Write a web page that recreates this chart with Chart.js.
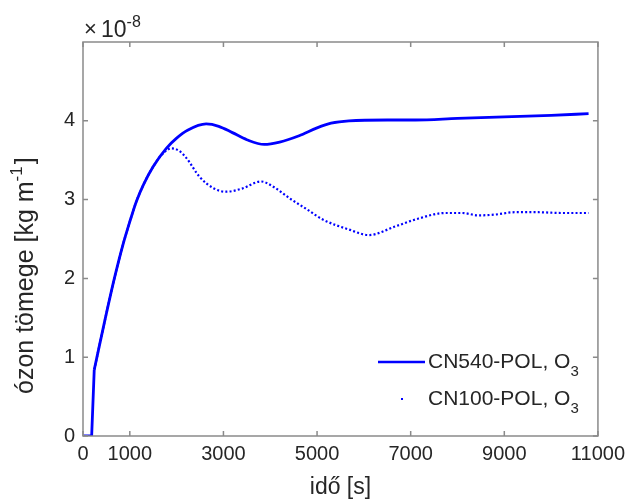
<!DOCTYPE html>
<html>
<head>
<meta charset="utf-8">
<script src="https://cdn.jsdelivr.net/npm/chart.js@4.4.1/dist/chart.umd.min.js"></script>
<style>
  html, body { margin: 0; padding: 0; background: #fff; }
  #wrap { width: 631px; height: 501px; }
</style>
</head>
<body>
<div id="wrap"><canvas id="chart" width="631" height="501"></canvas></div>
<script>
// time axis [s] and ozone mass [x 1e-8 kg/m]
// start-up ramp, common to both runs (drawn straight)
const rampTime = [0, 185, 240];
const rampMass = [0, 0, 0.84];

const solidTime = [240, 468, 670, 850, 1000, 1142, 1300, 1500, 1780, 2000, 2234, 2631, 2900, 3191, 3500, 3872, 4200, 4617, 5000, 5300, 5681, 6500, 7100, 8000, 9000, 10000, 10800];
const solidMass = [0.84, 1.47, 2.0, 2.42, 2.72, 2.98, 3.2, 3.42, 3.65, 3.78, 3.88, 3.96, 3.93, 3.85, 3.76, 3.70, 3.73, 3.81, 3.91, 3.97, 4.0, 4.01, 4.01, 4.03, 4.05, 4.07, 4.09];

const dotTime = [240, 468, 670, 850, 1000, 1142, 1300, 1500, 1700, 1887, 2050, 2206, 2489, 2800, 3057, 3400, 3801, 4100, 4404, 4800, 5113, 5681, 6106, 6674, 7170, 7738, 8100, 8447, 8800, 9227, 9700, 10213, 10800];
const dotMass = [0.84, 1.47, 2.0, 2.42, 2.72, 2.98, 3.2, 3.42, 3.58, 3.65, 3.62, 3.53, 3.29, 3.14, 3.10, 3.14, 3.23, 3.15, 3.02, 2.87, 2.75, 2.62, 2.55, 2.66, 2.76, 2.83, 2.83, 2.80, 2.81, 2.84, 2.84, 2.83, 2.83];

const seriesNames = ['CN540-POL, O', 'CN100-POL, O'];
const seriesSub = '3';
const xTicks = [0, 1000, 3000, 5000, 7000, 9000, 11000];
const yTicks = [0, 1, 2, 3, 4];
const xTitle = 'idő [s]';
const yTitle = 'ózon tömege [kg m';
const yTitleSup = '-1';
const expSign = '×';
const expBase = '10';
const expSup = '-8';

const FONT = "'Liberation Sans', Arial, Helvetica, sans-serif";
const BLUE = '#0000ff';
const AXIS = '#8a8a8a';
const TEXT = '#262626';

const toPoints = (xs, ys) => xs.map((x, i) => ({ x: x, y: ys[i] }));

// box, inward ticks, y label, exponent and legend, drawn like the matlab figure
const matlabAxes = {
    id: 'matlabAxes',
    afterDatasetsDraw(chart) {
        const { ctx, chartArea: a, scales } = chart;
        ctx.save();
        ctx.strokeStyle = AXIS;
        ctx.lineWidth = 1.5;
        ctx.strokeRect(a.left, a.top, a.right - a.left, a.bottom - a.top);

        ctx.beginPath();
        xTicks.forEach(v => {
            const px = scales.x.getPixelForValue(v);
            ctx.moveTo(px, a.bottom); ctx.lineTo(px, a.bottom - 5);
            ctx.moveTo(px, a.top); ctx.lineTo(px, a.top + 5);
        });
        yTicks.forEach(v => {
            const py = scales.y.getPixelForValue(v);
            ctx.moveTo(a.left, py); ctx.lineTo(a.left + 5, py);
            ctx.moveTo(a.right, py); ctx.lineTo(a.right - 5, py);
        });
        ctx.stroke();

        ctx.fillStyle = TEXT;
        ctx.textBaseline = 'alphabetic';
        ctx.textAlign = 'left';

        // exponent label
        ctx.font = '22px ' + FONT;
        ctx.fillText(expSign, 84, 36);
        ctx.font = '23px ' + FONT;
        ctx.fillText(expBase, 101, 37);
        const bw = ctx.measureText(expBase).width;
        ctx.font = '16px ' + FONT;
        ctx.fillText(expSup, 101 + bw, 27);

        // y title, rotated
        ctx.save();
        ctx.translate(33, 394);
        ctx.rotate(-Math.PI / 2);
        ctx.font = '25px ' + FONT;
        ctx.fillText(yTitle, 0, 0);
        let tx = ctx.measureText(yTitle).width;
        ctx.font = '17px ' + FONT;
        ctx.fillText(yTitleSup, tx, -11);
        tx += ctx.measureText(yTitleSup).width + 2;
        ctx.font = '25px ' + FONT;
        ctx.fillText(']', tx, 0);
        ctx.restore();

        // legend
        const rows = [368, 405];
        seriesNames.forEach((name, i) => {
            const base = rows[i];
            const mid = base - 6;
            if (i === 0) {
                ctx.strokeStyle = BLUE;
                ctx.lineWidth = 2.5;
                ctx.beginPath();
                ctx.moveTo(378, mid); ctx.lineTo(425, mid);
                ctx.stroke();
            } else {
                ctx.fillStyle = BLUE;
                ctx.fillRect(401, mid - 1, 2, 2);
            }
            ctx.fillStyle = TEXT;
            ctx.font = '21px ' + FONT;
            ctx.fillText(name, 428, base);
            const nw = ctx.measureText(name).width;
            ctx.font = '15px ' + FONT;
            ctx.fillText(seriesSub, 428 + nw, base + 8);
        });
        ctx.restore();
    }
};

const solidStyle = {
    borderColor: BLUE,
    borderWidth: 2.8,
    pointRadius: 0,
    fill: false
};

new Chart(document.getElementById('chart'), {
    type: 'line',
    data: {
        datasets: [
            Object.assign({
                label: seriesNames[0] + seriesSub,
                data: toPoints(solidTime, solidMass),
                cubicInterpolationMode: 'monotone'
            }, solidStyle),
            Object.assign({
                label: 'ramp',
                data: toPoints(rampTime, rampMass),
                tension: 0
            }, solidStyle),
            {
                label: seriesNames[1] + seriesSub,
                data: toPoints(dotTime, dotMass),
                borderColor: BLUE,
                borderWidth: 2.2,
                borderDash: [2, 2.2],
                borderCapStyle: 'butt',
                pointRadius: 0,
                cubicInterpolationMode: 'monotone',
                fill: false
            }
        ]
    },
    options: {
        responsive: false,
        animation: false,
        layout: { padding: { top: 42, right: 31, left: 0, bottom: 0 } },
        plugins: {
            legend: { display: false },
            tooltip: { enabled: false }
        },
        scales: {
            x: {
                type: 'linear',
                min: 0,
                max: 11000,
                afterBuildTicks: s => { s.ticks = xTicks.map(v => ({ value: v })); },
                afterFit: s => { s.height = 65; },
                grid: { display: false, drawTicks: false },
                border: { display: false },
                ticks: {
                    color: TEXT,
                    font: { family: FONT, size: 20 },
                    padding: 6,
                    maxRotation: 0,
                    autoSkip: false,
                    callback: v => String(v)
                },
                title: {
                    display: true,
                    text: xTitle,
                    color: TEXT,
                    font: { family: FONT, size: 23 },
                    padding: { top: 0, bottom: 0 }
                }
            },
            y: {
                type: 'linear',
                min: 0,
                max: 5,
                afterBuildTicks: s => { s.ticks = yTicks.map(v => ({ value: v })); },
                afterFit: s => { s.width = 83; },
                grid: { display: false, drawTicks: false },
                border: { display: false },
                ticks: {
                    color: TEXT,
                    font: { family: FONT, size: 20 },
                    padding: 8,
                    autoSkip: false,
                    callback: v => String(v)
                }
            }
        }
    },
    plugins: [matlabAxes]
});
</script>
</body>
</html>
